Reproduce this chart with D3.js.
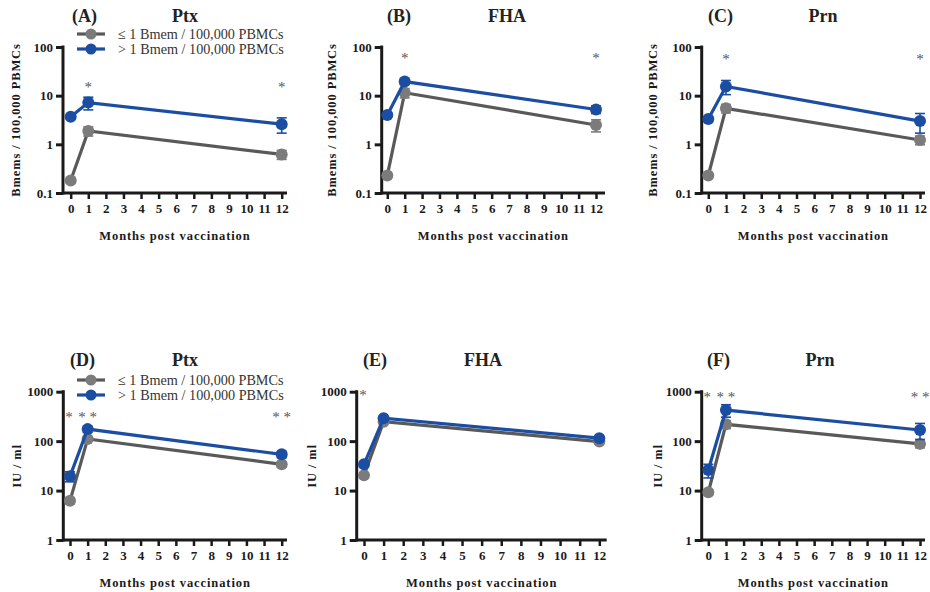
<!DOCTYPE html>
<html><head><meta charset="utf-8">
<script src="https://cdn.jsdelivr.net/npm/d3@7"></script>
<style>body{margin:0;background:#fff}svg{display:block}text{font-family:"Liberation Serif","Times New Roman",serif}</style>
</head><body><svg id="c" width="930" height="592"></svg>
<script>
const months = [0, 1, 12];
const xTicks = d3.range(0, 13);
const bmemTicks = [0.1, 1, 10, 100];
const iuTicks = [1, 10, 100, 1000];
const legendLabels = ["\u2264 1 Bmem / 100,000 PBMCs", "> 1 Bmem / 100,000 PBMCs"];

// Panel A Ptx (Bmems)
const aLow = [0.18, 1.88, 0.62];   const aLowErr = [0.02, 0.4, 0.13];
const aHigh = [3.7, 7.2, 2.6];     const aHighErr = [0.4, 2.1, 0.9];
// Panel B FHA (Bmems)
const bLow = [0.23, 11.5, 2.5];    const bLowErr = [0.02, 2.5, 0.7];
const bHigh = [4.0, 19.5, 5.2];    const bHighErr = [0.4, 2.5, 0.9];
// Panel C Prn (Bmems)
const cLow = [0.23, 5.5, 1.23];    const cLowErr = [0.02, 1.1, 0.25];
const cHigh = [3.3, 15.5, 3.0];    const cHighErr = [0.4, 5, 1.3];
// Panel D Ptx (IU/ml)
const dLow = [6.2, 111, 34];       const dLowErr = [0.8, 12, 4];
const dHigh = [19.5, 175, 54];     const dHighErr = [4.5, 25, 8];
// Panel E FHA (IU/ml)
const eLow = [20.5, 248, 98];      const eLowErr = [2, 20, 10];
const eHigh = [34, 290, 115];      const eHighErr = [4, 25, 10];
// Panel F Prn (IU/ml)
const fLow = [9.2, 219, 88];       const fLowErr = [1, 40, 15];
const fHigh = [26, 425, 168];      const fHighErr = [8, 120, 60];

const panels = [
  {tag:"(A)", name:"Ptx", low:aLow, lowE:aLowErr, high:aHigh, highE:aHighErr, ticks:bmemTicks, ylab:"Bmems / 100,000 PBMCs",
   ax:63, x0:70.7, x12:281.7, end:287, top:47, bot:193, tagX:72, nameX:185, titleY:22, yl:16, legend:true, legY:34,
   stars:[{m:1,t:"*"},{m:12,t:"*"}], starY:92},
  {tag:"(B)", name:"FHA", low:bLow, lowE:bLowErr, high:bHigh, highE:bHighErr, ticks:bmemTicks, ylab:"Bmems / 100,000 PBMCs",
   ax:381.7, x0:387.3, x12:596, end:605, top:47, bot:193, tagX:387, nameX:507, titleY:22, yl:332, legend:false,
   stars:[{m:1,t:"*"},{m:12,t:"*"}], starY:63},
  {tag:"(C)", name:"Prn", low:cLow, lowE:cLowErr, high:cHigh, highE:cHighErr, ticks:bmemTicks, ylab:"Bmems / 100,000 PBMCs",
   ax:701.7, x0:708.3, x12:920, end:925, top:47, bot:193, tagX:708, nameX:823, titleY:22, yl:653, legend:false,
   stars:[{m:1,t:"*"},{m:12,t:"*"}], starY:64},
  {tag:"(D)", name:"Ptx", low:dLow, lowE:dLowErr, high:dHigh, highE:dHighErr, ticks:iuTicks, ylab:"IU / ml",
   ax:63.3, x0:70, x12:281.7, end:287, top:391.7, bot:540, tagX:70, nameX:185, titleY:366, yl:17, legend:true, legY:380,
   stars:[{m:0,t:"*",dx:-1},{m:1,t:"* *"},{m:12,t:"* *"}], starY:422},
  {tag:"(E)", name:"FHA", low:eLow, lowE:eLowErr, high:eHigh, highE:eHighErr, ticks:iuTicks, ylab:"IU / ml",
   ax:356.7, x0:364, x12:599.3, end:606.7, top:391.7, bot:540, tagX:363, nameX:483, titleY:366, yl:312, legend:false,
   stars:[{m:0,t:"*",dx:-1}], starY:400},
  {tag:"(F)", name:"Prn", low:fLow, lowE:fLowErr, high:fHigh, highE:fHighErr, ticks:iuTicks, ylab:"IU / ml",
   ax:701.7, x0:708.3, x12:920, end:925, top:391.7, bot:540, tagX:707, nameX:820, titleY:366, yl:658, legend:false,
   stars:[{m:0,t:"*",dx:-1},{m:1,t:"* *"},{m:12,t:"* *"}], starY:402}
];

const GRAY_LINE = "#595959", GRAY_PT = "#7b7b7b", BLUE = "#1b4ea3";
const svg = d3.select("#c");

panels.forEach(p => {
  const g = svg.append("g");
  const x = d3.scaleLinear().domain([0, 12]).range([p.x0, p.x12]);
  const y = d3.scaleLog().domain([p.ticks[0], p.ticks[p.ticks.length-1]]).range([p.bot, p.top]);

  // titles
  g.append("text").attr("x", p.tagX).attr("y", p.titleY).attr("font-size", 18).attr("font-weight", "bold").attr("fill", "#222").text(p.tag);
  g.append("text").attr("x", p.nameX).attr("y", p.titleY).attr("text-anchor", "middle").attr("font-size", 18).attr("font-weight", "bold").attr("fill", "#222").text(p.name);

  // y axis
  const yAx = d3.axisLeft(y).tickValues(p.ticks).tickFormat(d => String(d)).tickSize(7).tickPadding(3);
  const yg = g.append("g").attr("transform", `translate(${p.ax},0)`).call(yAx);
  yg.select(".domain").remove();
  yg.selectAll(".tick line").attr("stroke", "#1a1a1a").attr("stroke-width", 3);
  yg.selectAll(".tick text").attr("font-size", 13).attr("font-weight", "bold").attr("fill", "#1a1a1a")
    .attr("font-family", "Liberation Serif, serif");
  g.append("line").attr("x1", p.ax).attr("x2", p.ax).attr("y1", p.top - 1.5).attr("y2", p.bot + 1.5)
    .attr("stroke", "#1a1a1a").attr("stroke-width", 3);

  // x axis
  const xAx = d3.axisBottom(x).tickValues(xTicks).tickSize(6).tickPadding(5);
  const xg = g.append("g").attr("transform", `translate(0,${p.bot})`).call(xAx);
  xg.select(".domain").remove();
  xg.selectAll(".tick line").attr("stroke", "#1a1a1a").attr("stroke-width", 2.5);
  xg.selectAll(".tick text").attr("font-size", 13).attr("font-weight", "bold").attr("fill", "#1a1a1a")
    .attr("font-family", "Liberation Serif, serif");
  g.append("line").attr("x1", p.ax).attr("x2", p.end).attr("y1", p.bot).attr("y2", p.bot)
    .attr("stroke", "#1a1a1a").attr("stroke-width", 3);

  // axis titles
  g.append("text").attr("x", (p.ax + p.end) / 2).attr("y", p.bot + 47).attr("text-anchor", "middle")
    .attr("font-size", 12.5).attr("font-weight", "bold").attr("letter-spacing", 0.9).attr("fill", "#1a1a1a")
    .text("Months post vaccination");
  g.append("text").attr("transform", `translate(${p.yl},${(p.top + p.bot) / 2}) rotate(-90)`)
    .attr("text-anchor", "middle").attr("dy", "0.35em")
    .attr("font-size", 12.5).attr("font-weight", "bold").attr("letter-spacing", 0.9).attr("fill", "#1a1a1a")
    .text(p.ylab);

  // series
  const series = [
    {v: p.low, e: p.lowE, line: GRAY_LINE, pt: GRAY_PT},
    {v: p.high, e: p.highE, line: BLUE, pt: BLUE}
  ];
  const lineGen = d3.line().x((d, i) => x(months[i])).y(d => y(d));
  series.forEach(s => {
    g.append("path").datum(s.v).attr("d", lineGen).attr("fill", "none").attr("stroke", s.line).attr("stroke-width", 3.2);
    s.v.forEach((v, i) => {
      const cx = x(months[i]);
      const yHi = y(v + s.e[i]), yLo = y(Math.max(v - s.e[i], p.ticks[0]));
      g.append("line").attr("x1", cx).attr("x2", cx).attr("y1", yHi).attr("y2", yLo).attr("stroke", s.pt).attr("stroke-width", 1.6);
      [yHi, yLo].forEach(yy => g.append("line").attr("x1", cx - 5).attr("x2", cx + 5).attr("y1", yy).attr("y2", yy).attr("stroke", s.pt).attr("stroke-width", 1.6));
    });
    g.selectAll(null).data(s.v).enter().append("circle")
      .attr("cx", (d, i) => x(months[i])).attr("cy", d => y(d)).attr("r", 6).attr("fill", s.pt);
  });

  // stars
  p.stars.forEach(st => {
    g.append("text").attr("x", x(st.m) + (st.dx || 0)).attr("y", p.starY).attr("text-anchor", "middle")
      .attr("font-size", 15).attr("fill", "#555").text(st.t);
  });

  // legend
  if (p.legend) {
    [GRAY_PT, BLUE].forEach((c, i) => {
      const ly = p.legY + i * 15;
      const lc = i === 0 ? GRAY_LINE : BLUE;
      g.append("line").attr("x1", 77).attr("x2", 105).attr("y1", ly).attr("y2", ly).attr("stroke", lc).attr("stroke-width", 3.2);
      g.append("circle").attr("cx", 91).attr("cy", ly).attr("r", 5.5).attr("fill", c);
      g.append("text").attr("x", 118).attr("y", ly).attr("dy", "0.35em").attr("font-size", 14.2).attr("fill", "#333").text(legendLabels[i]);
    });
  }
});
</script></body></html>
